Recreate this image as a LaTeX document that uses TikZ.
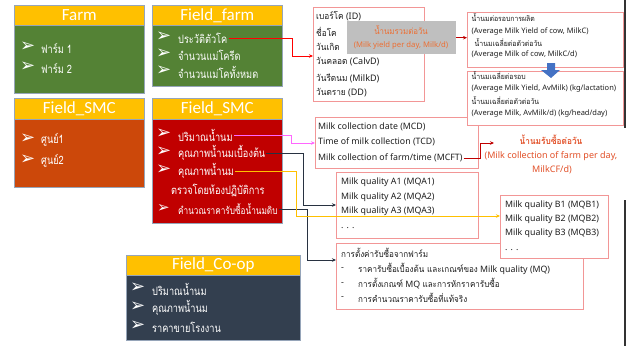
\documentclass[tikz,border=0pt]{standalone}
\usepackage{fontspec}
\setmainfont{Noto Sans}
\newfontfamily\thaifont[Script=Thai,FakeStretch=0.8]{Loma}
\newfontfamily\thaiboxfont[Script=Thai,FakeStretch=0.92]{Loma}
\newfontfamily\hdfont{Carlito}
\newfontfamily\symfont{DejaVu Sans}
\usetikzlibrary{arrows.meta,calc}
\newcommand\tx[1]{{\thaiboxfont #1}}
\definecolor{hdyellow}{RGB}{255,192,0}
\definecolor{farmgreen}{RGB}{84,130,53}
\definecolor{smcorange}{RGB}{204,72,10}
\definecolor{smcred}{RGB}{192,0,0}
\definecolor{coopdark}{RGB}{51,63,79}
\definecolor{boxframe}{RGB}{150,165,185}
\definecolor{pinkframe}{RGB}{242,150,150}
\definecolor{graybox}{RGB}{191,191,191}
\definecolor{orangetxt}{RGB}{237,110,50}
\definecolor{redtxt}{RGB}{226,80,40}
\definecolor{magline}{RGB}{255,102,255}
\definecolor{darkline}{RGB}{40,50,65}
\definecolor{bluearrow}{RGB}{68,114,196}
\definecolor{txtgray}{RGB}{30,30,30}
\begin{document}
\begin{tikzpicture}[x=1pt,y=-1pt,
  hdr/.style={draw=boxframe, fill=hdyellow, line width=0.6pt, anchor=north west, inner sep=0pt,
    text=white, font=\hdfont\fontsize{17}{17}\selectfont, minimum height=20pt},
  bodyb/.style={draw=boxframe, line width=0.6pt, anchor=north west, inner sep=0pt},
  bul/.style={anchor=west, inner sep=0pt, text=white, font=\symfont\fontsize{18}{18}\selectfont},
  itm/.style={anchor=west, inner sep=1pt, text=white, font=\thaifont\fontsize{11.5}{13}\selectfont},
  pbox/.style={draw=pinkframe, fill=white, line width=0.8pt, anchor=north west, inner sep=0pt},
  ptxt/.style={anchor=west, inner sep=1pt, text=txtgray, font=\fontsize{8.8}{10}\selectfont},
  stxt/.style={anchor=west, inner sep=0.5pt, text=txtgray, font=\fontsize{7.5}{8}\selectfont},
  conn/.style={line width=1pt, -{Stealth[length=4pt,width=3.5pt]}},
]
\useasboundingbox (0,0) rectangle (626,346);
\fill[white] (0,0) rectangle (626,346);

% ---------- Farm ----------
\node[hdr, minimum width=130pt] (farmH) at (14,5) {Farm};
\node[bodyb, fill=farmgreen, minimum width=130pt, minimum height=68pt] (farmB) at (14,25) {};
\node[bul] (fb1) at (20,47) {➢};
\node[itm] (f1) at (40,48) {ฟาร์ม 1};
\node[bul] (fb2) at (20,67) {➢};
\node[itm] (f2) at (40,68) {ฟาร์ม 2};

% ---------- Field_farm ----------
\node[hdr, minimum width=130pt] (ffH) at (152,5) {Field\_farm};
\node[bodyb, fill=farmgreen, minimum width=130pt, minimum height=61pt] (ffB) at (152,25) {};
\node[bul] (ffb1) at (156,37) {➢};
\node[itm] (hist) at (177,38) {ประวัติตัวโค};
\node[bul] (ffb2) at (156,54) {➢};
\node[itm] (ff2) at (177,55) {จำนวนแม่โครีด};
\node[bul] (ffb3) at (156,71) {➢};
\node[itm] (ff3) at (177,72) {จำนวนแม่โคทั้งหมด};

% ---------- Field_SMC left ----------
\node[hdr, minimum width=130pt, minimum height=21pt] (slH) at (14,98) {Field\_SMC};
\node[bodyb, fill=smcorange, minimum width=130pt, minimum height=68pt] (slB) at (14,119) {};
\node[bul] (slb1) at (20,139) {➢};
\node[itm] (sl1) at (40,140) {ศูนย์1};
\node[bul] (slb2) at (20,160) {➢};
\node[itm] (sl2) at (40,161) {ศูนย์2};

% ---------- Field_SMC right ----------
\node[hdr, minimum width=130pt, minimum height=21pt] (srH) at (152,98) {Field\_SMC};
\node[bodyb, fill=smcred, minimum width=130pt, minimum height=104pt] (srB) at (152,119) {};
\node[bul] (srb1) at (156,134) {➢};
\node[itm] (smc1) at (177,135) {ปริมาณน้ำนม};
\node[bul] (srb2) at (156,152) {➢};
\node[itm] (smc2) at (177,153) {คุณภาพน้ำนมเบื้องต้น};
\node[bul] (srb3) at (156,170) {➢};
\node[itm] (smc3) at (177,171) {คุณภาพน้ำนม};
\node[itm] (smc4) at (170,190) {ตรวจโดยห้องปฏิบัติการ};
\node[bul, font=\symfont\fontsize{15}{15}\selectfont] (srb5) at (157,208) {➢};
\node[itm, font=\thaifont\fontsize{10.3}{12}\selectfont] (smc5) at (177,209) {คำนวณราคารับซื้อน้ำนมดิบ};

% ---------- Field_Co-op ----------
\node[hdr, minimum width=174pt] (cpH) at (126,255) {Field\_Co-op};
\node[bodyb, fill=coopdark, minimum width=174pt, minimum height=65pt] (cpB) at (126,275) {};
\node[bul] (cpb1) at (130,288) {➢};
\node[itm] (cp1) at (151,289) {ปริมาณน้ำนม};
\node[bul] (cpb2) at (130,307) {➢};
\node[itm] (cp2) at (151,308) {คุณภาพน้ำนม};
\node[bul] (cpb3) at (130,326) {➢};
\node[itm] (cp3) at (151,327) {ราคาขายโรงงาน};

% ---------- cow info box ----------
\node[pbox, minimum width=111pt, minimum height=94pt] (box1) at (313,7) {};
\node[ptxt, font=\fontsize{9}{10}\selectfont] (c1) at (315,16) {\tx{เบอร์โค} (ID)};
\node[ptxt, font=\fontsize{9}{10}\selectfont] (c2) at (315,32) {\tx{ชื่อโค}};
\node[ptxt, font=\fontsize{9}{10}\selectfont] (c3) at (315,47) {\tx{วันเกิด}};
\node[ptxt, font=\fontsize{9}{10}\selectfont] (c4) at (315,62) {\tx{วันคลอด} (CalvD)};
\node[ptxt, font=\fontsize{9}{10}\selectfont] (c5) at (315,78) {\tx{วันรีดนม} (MilkD)};
\node[ptxt, font=\fontsize{9}{10}\selectfont] (c6) at (315,93) {\tx{วันดราย} (DD)};
\node[fill=graybox, anchor=north west, minimum width=109pt, minimum height=33pt, inner sep=0pt] (gray) at (347,21) {};
\node[text=orangetxt, inner sep=0pt, font=\thaiboxfont\fontsize{8.5}{10}\selectfont] (g1) at (401,30) {น้ำนมรวมต่อวัน};
\node[text=orangetxt, inner sep=0pt, font=\fontsize{7.7}{9}\selectfont] (g2) at (401,45) {(Milk yield per day, Milk/d)};

% ---------- box2 / box3 ----------
\node[pbox, minimum width=156pt, minimum height=55pt] (box2) at (467,12) {};
\node[stxt] (t21) at (471,18) {\tx{น้ำนมต่อรอบการผลิต}};
\node[stxt] (t22) at (471,32) {(Average Milk Yield of cow, MilkC)};
\node[stxt] (t23) at (474,43) {\tx{น้ำนมเฉลี่ยต่อตัวต่อวัน}};
\node[stxt] (t24) at (471,55) {(Average Milk of cow, MilkC/d)};

\node[pbox, minimum width=163pt, minimum height=51pt] (box4) at (315,117) {};
\node[pbox, minimum width=156pt, minimum height=54pt] (box3) at (467,71) {};
\node[stxt] (t31) at (471,76) {\tx{น้ำนมเฉลี่ยต่อรอบ}};
\node[stxt] (t32) at (471,89) {(Average Milk Yield, AvMilk) (kg/lactation)};
\node[stxt] (t33) at (471,101) {\tx{น้ำนมเฉลี่ยต่อตัวต่อวัน}};
\node[stxt] (t34) at (471,114) {(Average Milk, AvMilk/d) (kg/head/day)};
\fill[bluearrow] (547,63) -- (555,63) -- (555,70) -- (560,70) -- (551,78) -- (541,70) -- (547,70) -- cycle;

% ---------- box4 ----------
\node[ptxt] (m1) at (317,127) {Milk collection date (MCD)};
\node[ptxt] (m2) at (317,142) {Time of milk collection (TCD)};
\node[ptxt] (m3) at (317,158) {Milk collection of farm/time (MCFT)};

\node[text=redtxt, inner sep=0pt, font=\thaiboxfont\bfseries\fontsize{9}{10}\selectfont] (r1) at (551,140) {น้ำนมรับซื้อต่อวัน};
\node[text=redtxt, inner sep=0pt, font=\fontsize{9}{10}\selectfont] (r2) at (551,156) {(Milk collection of farm per day,};
\node[text=redtxt, inner sep=0pt, font=\fontsize{9}{10}\selectfont] (r3) at (552,170) {MilkCF/d)};

% ---------- box5 ----------
\node[pbox, minimum width=142pt, minimum height=66pt] (box5) at (336,172) {};
\node[ptxt] (a1) at (340,182) {Milk quality A1 (MQA1)};
\node[ptxt] (a2) at (340,197) {Milk quality A2 (MQA2)};
\node[ptxt] (a3) at (340,211) {Milk quality A3 (MQA3)};
\node[ptxt] (a4) at (340,228) {. . .};

% ---------- box7 ----------
\node[pbox, minimum width=247pt, minimum height=66pt] (box7) at (336,243) {};
\node[ptxt] (p0) at (340,253) {\tx{การตั้งค่ารับซื้อจากฟาร์ม}};
\node[ptxt] (pd1) at (340,269) {-};
\node[ptxt] (p1) at (357,269) {\tx{ราคารับซื้อเบื้องต้น และเกณฑ์ของ} Milk quality (MQ)};
\node[ptxt] (pd2) at (340,284) {-};
\node[ptxt] (p2) at (357,284) {\tx{การตั้งเกณฑ์} MQ \tx{และการหักราคารับซื้อ}};
\node[ptxt] (pd3) at (340,298) {-};
\node[ptxt] (p3) at (357,298) {\tx{การคำนวณราคารับซื้อที่แท้จริง}};

% ---------- box6 ----------
\node[pbox, minimum width=108pt, minimum height=63pt] (box6) at (500,195) {};
\node[ptxt] (b1) at (504,205) {Milk quality B1 (MQB1)};
\node[ptxt] (b2) at (504,219) {Milk quality B2 (MQB2)};
\node[ptxt] (b3) at (504,233) {Milk quality B3 (MQB3)};
\node[ptxt] (b4) at (504,250) {. . .};

% ---------- connectors ----------
\coordinate (rk) at (292,56);
\draw[conn, red] (hist.east) -| (rk) -- (rk -| box1.west);
\draw[conn, smcred, line width=0.8pt] (gray.east) -- (gray.east -| box2.west);
\coordinate (mk) at (291,143);
\draw[conn, magline] (smc1.east) -| (mk) -- (mk -| box4.west);
\coordinate (dk1) at (303,205);
\draw[conn, darkline] (smc2.east) -| (dk1) -- (dk1 -| box5.west);
\coordinate (dk2) at (307,260);
\draw[conn, darkline] (smc5.east) -| (dk2) -- (dk2 -| box7.west);
\coordinate (yk) at (296,216);
\draw[conn, hdyellow] (smc3.east) -| (yk) -- (yk -| box6.west);
\coordinate (rk2) at (480,143);
\coordinate (rtip) at (494,143);
\draw[conn, smcred, line width=0.8pt] (m3.east) -| (rk2) -- (rtip);

% ---------- right edge ----------
\draw[line width=2pt, black!80] (624.5,0) -- (624.5,128);
\draw[line width=2pt, black!80] (624.5,200) -- (624.5,346);
\end{tikzpicture}
\end{document}
